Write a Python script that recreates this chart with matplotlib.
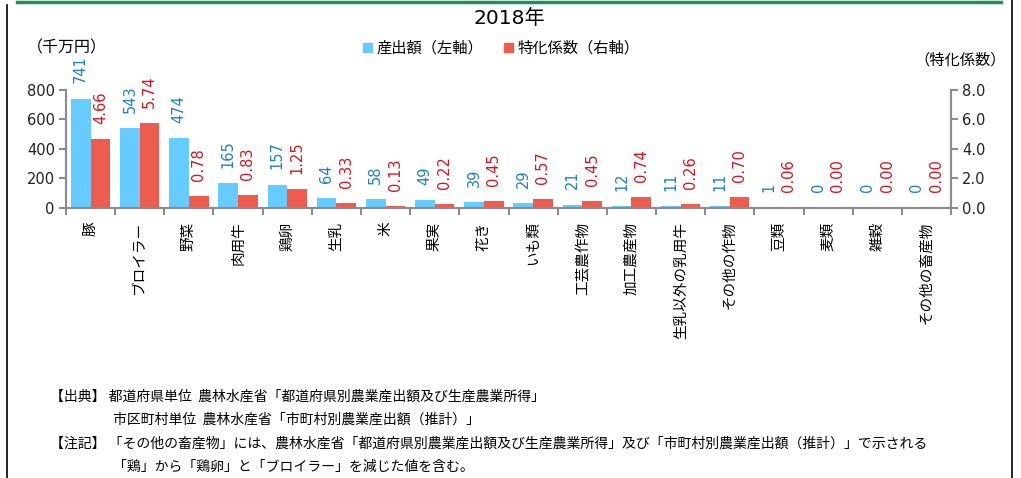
import matplotlib
matplotlib.use("Agg")
import matplotlib.pyplot as plt
from matplotlib.patches import Patch
from matplotlib.lines import Line2D
import numpy as np

plt.rcParams['font.family'] = ['DejaVu Sans', 'Noto Sans CJK JP']

# data
categories = ["豚", "ブロイラー", "野菜", "肉用牛", "鶏卵", "生乳", "米", "果実", "花き",
              "いも類", "工芸農作物", "加工農産物", "生乳以外の乳用牛", "その他の作物",
              "豆類", "麦類", "雑穀", "その他の畜産物"]
output_values = [741, 543, 474, 165, 157, 64, 58, 49, 39, 29, 21, 12, 11, 11, 1, 0, 0, 0]
special_coef = [4.66, 5.74, 0.78, 0.83, 1.25, 0.33, 0.13, 0.22, 0.45, 0.57, 0.45, 0.74,
                0.26, 0.70, 0.06, 0.00, 0.00, 0.00]

blue = "#66CCFF"
red = "#EE5B4F"
blue_txt = "#1E7FD2"
red_txt = "#D7141F"
gray = "#8C8C8C"
cjk = ['Noto Sans CJK JP', 'DejaVu Sans']

fig = plt.figure(figsize=(10.21, 4.78), dpi=100)
ax = fig.add_axes([0.0646, 0.5655, 0.8669, 0.2462])
ax2 = ax.twinx()

x = np.arange(len(categories))
w = 0.4
ax.bar(x - w / 2, output_values, w, color=blue, zorder=2)
ax2.bar(x + w / 2, special_coef, w, color=red, zorder=2)

ax.set_xlim(-0.5, len(categories) - 0.5)
ax.set_ylim(0, 800)
ax.set_yticks(range(0, 801, 200))
ax2.set_ylim(0, 8)
ax2.set_yticks(np.arange(0, 8.01, 2))
ax2.set_yticklabels([f"{v:.1f}" for v in np.arange(0, 8.01, 2)])

for a in (ax, ax2):
    a.spines["top"].set_visible(False)
    for s in ("left", "right", "bottom"):
        a.spines[s].set_color(gray)
        a.spines[s].set_linewidth(1.5)
    a.tick_params(axis="y", colors=gray, labelcolor="#222222", labelsize=10.5,
                  length=5, width=1.5, pad=3)

# category labels centred, ticks between groups
ax.set_xticks(x)
ax.set_xticklabels(categories, rotation=90, fontsize=10.5, va="top", ha="center",
                   family=cjk)
ax.tick_params(axis="x", which="major", length=0, pad=10)
ax.set_xticks(np.arange(-0.5, len(categories), 1), minor=True)
ax.tick_params(axis="x", which="minor", length=5, width=1.5, color=gray)

for xi, v in zip(x, output_values):
    ax.annotate(f"{v}", (xi - w / 2, v), xytext=(0, 11), textcoords="offset points",
                rotation=90, ha="center", va="bottom", color=blue_txt, fontsize=10.5)
for xi, v in zip(x, special_coef):
    ax2.annotate(f"{v:.2f}", (xi + w / 2, v), xytext=(0, 11), textcoords="offset points",
                 rotation=90, ha="center", va="bottom", color=red_txt, fontsize=10.5)

# title, units, legend
fig.text(0.499, 0.962, "2018年", ha="center", va="center", fontsize=14.5)
fig.text(0.066, 0.899, "（千万円）", ha="center", va="center", fontsize=11.5, family=cjk)
fig.text(0.940, 0.874, "（特化係数）", ha="center", va="center", fontsize=11, family=cjk)
handles = [Patch(color=blue, label="産出額（左軸）"), Patch(color=red, label="特化係数（右軸）")]
fig.legend(handles=handles, loc="center", bbox_to_anchor=(0.491, 0.899), ncol=2,
           frameon=False, handlelength=0.55, handleheight=0.55,
           handletextpad=0.3, columnspacing=1.4, prop={'family': cjk, 'size': 11})

# footnotes
notes = [
    (0.049, 397, "【出典】 都道府県単位  農林水産省「都道府県別農業産出額及び生産農業所得」"),
    (0.111, 420, "市区町村単位  農林水産省「市町村別農業産出額（推計）」"),
    (0.049, 444, "【注記】 「その他の畜産物」には、農林水産省「都道府県別農業産出額及び生産農業所得」及び「市町村別農業産出額（推計）」で示される"),
    (0.111, 467, "「鶏」から「鶏卵」と「ブロイラー」を減じた値を含む。"),
]
for nx, ny, t in notes:
    fig.text(nx, 1 - ny / 478, t, ha="left", va="center", fontsize=10, family=cjk)

# frame lines
fig.add_artist(Line2D([0.017, 0.980], [0.996, 0.996], color="#1F8F55", lw=2.5,
                      transform=fig.transFigure))
fig.add_artist(Line2D([0.007, 0.007], [0, 0.99], color="black", lw=1.2,
                      transform=fig.transFigure))
fig.add_artist(Line2D([0.991, 0.991], [0, 1], color="black", lw=1.2,
                      transform=fig.transFigure))

fig.savefig("out.png", dpi=100)
